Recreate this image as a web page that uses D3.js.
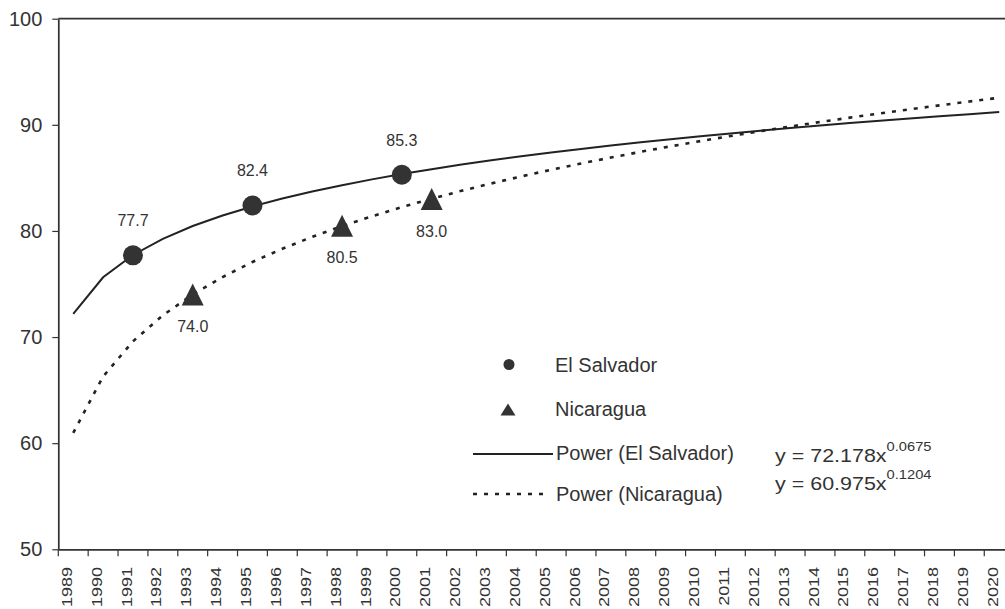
<!DOCTYPE html>
<html>
<head>
<meta charset="utf-8">
<script src="https://cdn.jsdelivr.net/npm/d3@7"></script>
<style>
  html, body { margin: 0; padding: 0; background: #fff; }
  svg { display: block; font-family: "Liberation Sans", Arial, sans-serif; }
</style>
</head>
<body>
<svg id="chart" width="1005" height="609"></svg>
<script>
// Category axis: one band per year
const years = ["1989","1990","1991","1992","1993","1994","1995","1996","1997","1998",
  "1999","2000","2001","2002","2003","2004","2005","2006","2007","2008","2009","2010",
  "2011","2012","2013","2014","2015","2016","2017","2018","2019","2020"];

// Observed values
const elSalvadorYears = ["1991", "1995", "2000"];
const elSalvadorValues = [77.7, 82.4, 85.3];
const nicaraguaYears = ["1993", "1998", "2001"];
const nicaraguaValues = [74.0, 80.5, 83.0];

// Power trend coefficients, y = a * x^b (x = category number starting at 1)
const powerElSalvador = [72.178, 0.0675];
const powerNicaragua = [60.975, 0.1204];

const yTicks = [50, 60, 70, 80, 90, 100];

const ink = "#333";
const svg = d3.select("#chart");

const plotLeft = 58.3, plotTop = 18.7, plotBottom = 549.3, bandW = 29.87;
const x = d3.scaleBand().domain(years).range([plotLeft, plotLeft + years.length * bandW]).padding(0);
const y = d3.scaleLinear().domain([50, 100]).range([plotBottom, plotTop]);
const cx = d => x(d) + x.bandwidth() / 2;

// Frame: top border
svg.append("line")
  .attr("x1", plotLeft).attr("x2", x.range()[1])
  .attr("y1", y(100)).attr("y2", y(100))
  .attr("stroke", ink).attr("stroke-width", 1.75);

// Y axis
const yAxis = svg.append("g")
  .attr("transform", `translate(${plotLeft},0)`)
  .call(d3.axisLeft(y).tickValues(yTicks).tickSize(6).tickSizeOuter(0).tickPadding(10));
yAxis.select(".domain").attr("stroke", ink).attr("stroke-width", 1.75);
yAxis.selectAll(".tick line").attr("stroke", ink).attr("stroke-width", 1.2);
yAxis.selectAll(".tick text")
  .attr("fill", ink).style("font-size", "20px")
  .style("font-family", "'Liberation Sans', Arial, sans-serif");

// X axis: ticks at category boundaries, labels rotated
const xAxis = svg.append("g")
  .attr("transform", `translate(0,${plotBottom})`)
  .call(d3.axisBottom(x).tickSize(7).tickSizeOuter(0).tickFormat(""));
xAxis.select(".domain").attr("stroke", ink).attr("stroke-width", 1.75);
xAxis.selectAll(".tick line")
  .attr("stroke", ink).attr("stroke-width", 1.2)
  .attr("transform", `translate(${-x.bandwidth() / 2},0)`);

svg.append("g").selectAll("text")
  .data(years)
  .join("text")
  .attr("transform", d => `translate(${x(d) + 13.5},567) rotate(-90) scale(1,0.78)`)
  .attr("text-anchor", "end")
  .attr("fill", ink)
  .style("font-size", "18px")
  .text(d => d);

// Power trend lines
const trend = ([a, b]) => years.map((yr, i) => ({ yr, v: a * Math.pow(i + 1, b) }));
const line = d3.line().x(d => cx(d.yr)).y(d => y(d.v));

svg.append("path")
  .datum(trend(powerElSalvador))
  .attr("d", line)
  .attr("fill", "none").attr("stroke", "#222").attr("stroke-width", 2);

svg.append("path")
  .datum(trend(powerNicaragua))
  .attr("d", line)
  .attr("fill", "none").attr("stroke", "#222").attr("stroke-width", 2.6)
  .attr("stroke-dasharray", "4,7");

// Markers
const tri = (px, py, w, h) => `M${px},${py - h / 2}L${px + w / 2},${py + h / 2}L${px - w / 2},${py + h / 2}Z`;

const es = elSalvadorYears.map((yr, i) => ({ yr, v: elSalvadorValues[i] }));
const ni = nicaraguaYears.map((yr, i) => ({ yr, v: nicaraguaValues[i] }));

svg.append("g").selectAll("circle")
  .data(es)
  .join("circle")
  .attr("cx", d => cx(d.yr)).attr("cy", d => y(d.v)).attr("r", 10)
  .attr("fill", ink);

svg.append("g").selectAll("path")
  .data(ni)
  .join("path")
  .attr("d", d => tri(cx(d.yr), y(d.v), 22, 22))
  .attr("fill", ink);

// Value labels
svg.append("g").selectAll("text")
  .data(es)
  .join("text")
  .attr("x", d => cx(d.yr)).attr("y", d => y(d.v) - 29)
  .attr("text-anchor", "middle").attr("fill", ink)
  .style("font-size", "16px")
  .text(d => d.v.toFixed(1));

svg.append("g").selectAll("text")
  .data(ni)
  .join("text")
  .attr("x", d => cx(d.yr)).attr("y", d => y(d.v) + 37.5)
  .attr("text-anchor", "middle").attr("fill", ink)
  .style("font-size", "16px")
  .text(d => d.v.toFixed(1));

// Legend
const lg = svg.append("g").attr("fill", ink).style("font-size", "20px");
lg.append("circle").attr("cx", 509).attr("cy", 364.5).attr("r", 5.5);
lg.append("text").attr("x", 555).attr("y", 371.5).text("El Salvador");
lg.append("path").attr("d", tri(508, 409.5, 15, 12));
lg.append("text").attr("x", 555).attr("y", 416).text("Nicaragua");
lg.append("line").attr("x1", 473).attr("x2", 553).attr("y1", 454).attr("y2", 454)
  .attr("stroke", "#222").attr("stroke-width", 2);
lg.append("text").attr("x", 556).attr("y", 460).text("Power (El Salvador)");
lg.append("line").attr("x1", 473).attr("x2", 549).attr("y1", 494).attr("y2", 494)
  .attr("stroke", "#222").attr("stroke-width", 2.6).attr("stroke-dasharray", "4,7");
lg.append("text").attr("x", 556).attr("y", 501).text("Power (Nicaragua)");

// Trend equations
const eq = (yPos, [a, b]) => {
  const t = svg.append("text")
    .attr("transform", `translate(775,${yPos}) scale(1.13,1)`)
    .attr("fill", ink).style("font-size", "19px");
  t.append("tspan").text(`y = ${a}x`);
  t.append("tspan").attr("dy", -11).style("font-size", "13px").text(b.toFixed(4));
};
eq(461.5, powerElSalvador);
eq(490, powerNicaragua);
</script>
</body>
</html>
